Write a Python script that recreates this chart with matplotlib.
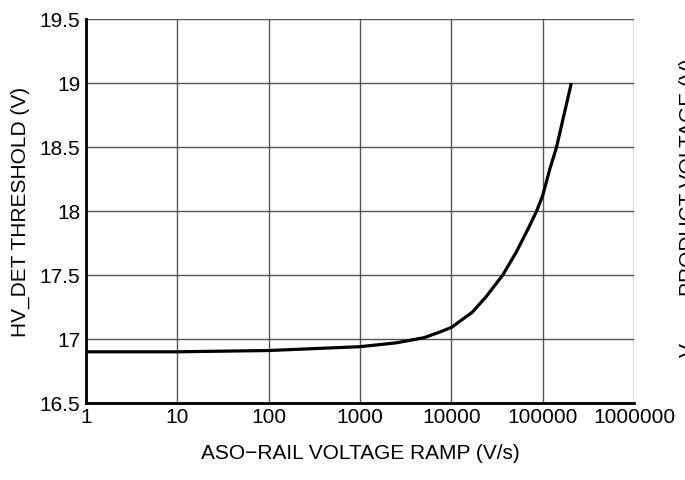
import matplotlib
matplotlib.use("Agg")
import matplotlib.pyplot as plt

plt.rcParams['font.family'] = ['Liberation Sans', 'DejaVu Sans']

ramp_vs = [1, 10, 100, 1000, 2500, 5000, 7200, 10000, 17000, 24000, 36600,
           51500, 69200, 85900, 100000, 120000, 142000, 171000, 206000]
threshold_v = [16.90, 16.90, 16.91, 16.94, 16.97, 17.01, 17.05, 17.09, 17.21, 17.33, 17.50,
               17.68, 17.86, 18.00, 18.12, 18.33, 18.50, 18.75, 19.00]

x_ticks = [1, 10, 100, 1000, 10000, 100000, 1000000]
x_tick_labels = ["1", "10", "100", "1000", "10000", "100000", "1000000"]
y_ticks = [16.5, 17, 17.5, 18, 18.5, 19, 19.5]
y_tick_labels = ["16.5", "17", "17.5", "18", "18.5", "19", "19.5"]

FS = 15

fig = plt.figure(figsize=(6.85, 4.81), dpi=100)
ax = fig.add_axes([86/685, 77/481, 548/685, 384/481])

ax.plot(ramp_vs, threshold_v, color="black", linewidth=2.3,
        solid_capstyle="butt", solid_joinstyle="round", zorder=3)

ax.set_xscale("log")
ax.set_xlim(1, 1e6)
ax.set_ylim(16.5, 19.5)
ax.set_xticks(x_ticks)
ax.set_xticklabels(x_tick_labels)
ax.set_yticks(y_ticks)
ax.set_yticklabels(y_tick_labels)
ax.minorticks_off()
ax.tick_params(axis="both", length=0, labelsize=FS)
ax.tick_params(axis="x", pad=3)
ax.tick_params(axis="y", pad=4)

ax.grid(True, color="#555555", linewidth=1.0)
for s in ["top", "right"]:
    ax.spines[s].set_visible(False)
for s in ["left", "bottom"]:
    ax.spines[s].set_linewidth(2.0)
    ax.spines[s].set_color("black")

ax.set_xlabel("ASO\u2212RAIL VOLTAGE RAMP (V/s)", fontsize=FS, labelpad=12)
ax.set_ylabel("HV_DET THRESHOLD (V)", fontsize=FS, labelpad=7)

fig.text(679/685, 1 - 296/481, "PRODUCT VOLTAGE (V)", rotation=90, fontsize=FS,
         ha="left", va="bottom")
fig.text(679/685, 1 - 357/481, "V", rotation=90, fontsize=FS, ha="left", va="bottom")

fig.savefig("out.png", dpi=100)
